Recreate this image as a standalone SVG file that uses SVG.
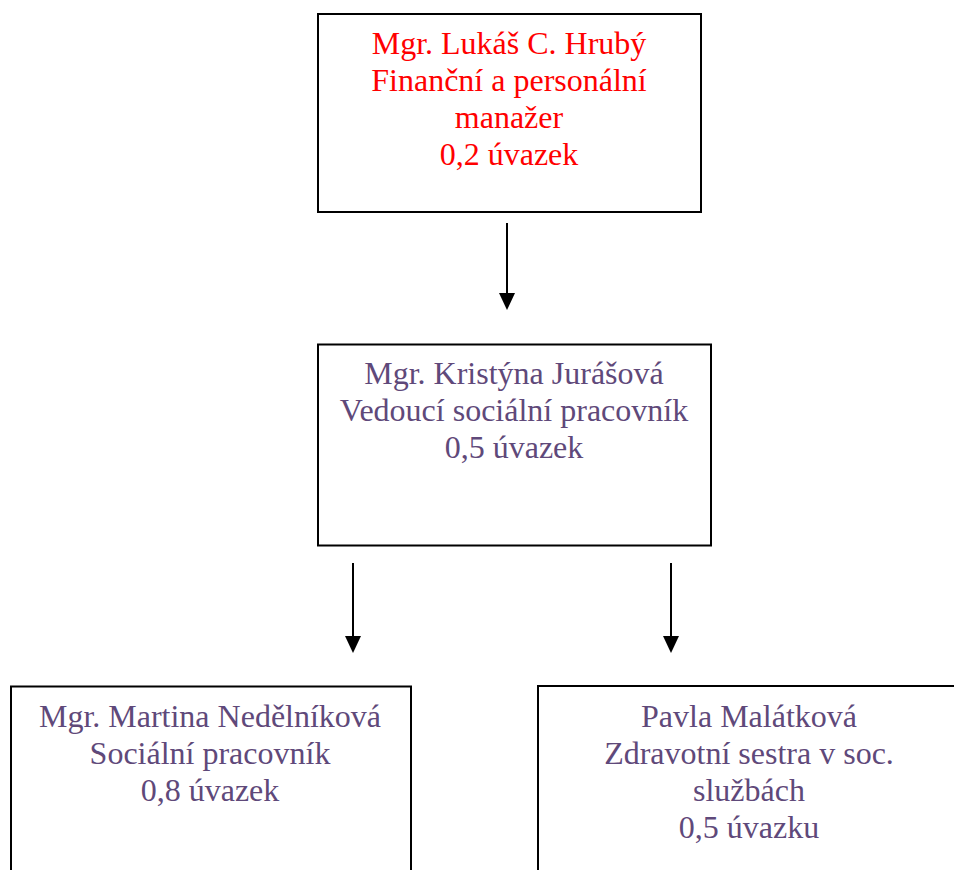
<svg xmlns="http://www.w3.org/2000/svg" width="954" height="870" viewBox="0 0 954 870">
<style>
.box{fill:#fff;stroke:#000;stroke-width:2}
.t{font-family:"Liberation Serif","Times New Roman",serif;font-size:32px;text-anchor:middle}
.red{fill:#ff0000}
.pur{fill:#5F497A}
.conn{stroke:#000;stroke-width:2;fill:none}
.head{fill:#000}
</style>
<rect width="954" height="870" fill="#fff"/>
<g id="node-hruby">
<rect class="box" x="318" y="14" width="383" height="198"/>
<text class="t red" x="509" y="53.5">Mgr. Lukáš C. Hrubý</text>
<text class="t red" x="509" y="91">Finanční a personální</text>
<text class="t red" x="509" y="128">manažer</text>
<text class="t red" x="509" y="165">0,2 úvazek</text>
</g>
<g id="node-jurasova">
<rect class="box" x="318" y="344.5" width="393" height="201"/>
<text class="t pur" x="514" y="383.5">Mgr. Kristýna Jurášová</text>
<text class="t pur" x="514" y="420.5">Vedoucí sociální pracovník</text>
<text class="t pur" x="514" y="457.5">0,5 úvazek</text>
</g>
<g id="node-nedelnikova">
<rect class="box" x="11" y="686.5" width="400" height="200"/>
<text class="t pur" x="210" y="727">Mgr. Martina Nedělníková</text>
<text class="t pur" x="210" y="763.5">Sociální pracovník</text>
<text class="t pur" x="210" y="800.5">0,8 úvazek</text>
</g>
<g id="node-malatkova">
<rect class="box" x="538" y="686" width="424" height="200"/>
<text class="t pur" x="749" y="727">Pavla Malátková</text>
<text class="t pur" x="749" y="763.5">Zdravotní sestra v soc.</text>
<text class="t pur" x="749" y="800.5">službách</text>
<text class="t pur" x="749" y="837.5">0,5 úvazku</text>
</g>
<g id="connectors">
<path class="conn" d="M507,223 L507,294"/>
<polygon class="head" points="499,293 515,293 507,310"/>
<path class="conn" d="M353,563 L353,637"/>
<polygon class="head" points="345,636 361,636 353,653"/>
<path class="conn" d="M671,563 L671,637"/>
<polygon class="head" points="663,636 679,636 671,653"/>
</g>
</svg>
